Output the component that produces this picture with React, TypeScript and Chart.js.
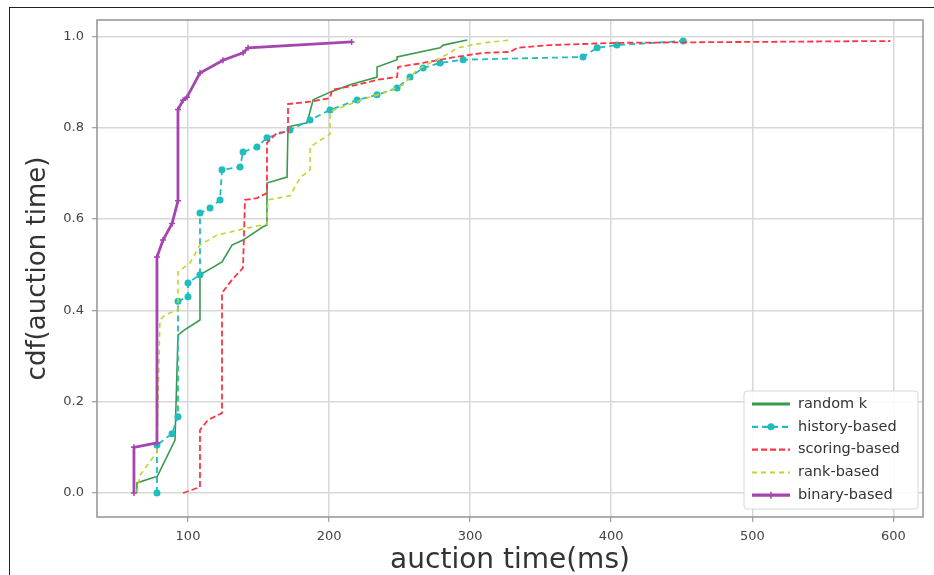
import React, { useEffect, useRef } from "react";
import { Chart, registerables } from "chart.js";

Chart.register(...registerables);

// ---------- data ----------
const SERIES_NAMES = ["random k", "history-based", "scoring-based", "rank-based", "binary-based"];

const RANDOM_X = [63.8, 63.8, 76.6, 78, 90.8, 92.9, 96.5, 108.5, 108.5, 117, 124.1, 131.2, 139, 153.2, 156, 156, 170.2, 170.9, 184.4, 188.7, 200.7, 214.9, 234, 234, 248.2, 248.2, 278.7, 280.9, 297.9];
const RANDOM_Y = [0, 0.022, 0.035, 0.035, 0.116, 0.346, 0.355, 0.379, 0.478, 0.493, 0.506, 0.543, 0.554, 0.583, 0.587, 0.679, 0.692, 0.802, 0.811, 0.861, 0.878, 0.894, 0.911, 0.933, 0.949, 0.955, 0.975, 0.981, 0.992];

const HISTORY_X = [78, 78, 88.7, 92.9, 92.9, 100, 100, 108.5, 108.5, 115.6, 122.7, 124.1, 136.9, 139, 148.9, 156, 172.3, 186.5, 200.7, 219.9, 234, 248.2, 257.4, 266.7, 278.7, 295, 380, 390, 404, 451];
const HISTORY_Y = [0, 0.105, 0.13, 0.167, 0.42, 0.43, 0.46, 0.478, 0.613, 0.624, 0.642, 0.708, 0.714, 0.747, 0.758, 0.778, 0.795, 0.817, 0.839, 0.861, 0.872, 0.887, 0.911, 0.931, 0.942, 0.949, 0.955, 0.975, 0.981, 0.99];

const SCORING_X = [96.5, 108.5, 108.5, 114.2, 124.1, 124.1, 131.2, 139, 140.4, 148.9, 156, 156, 163.1, 170.9, 170.9, 186.5, 200.7, 202.1, 219.9, 234, 248.2, 248.9, 266.7, 285.8, 309.2, 328.4, 333.3, 356.7, 404.3, 498.6, 597.9];
const SCORING_Y = [0, 0.013, 0.138, 0.16, 0.175, 0.438, 0.467, 0.493, 0.642, 0.646, 0.657, 0.767, 0.789, 0.791, 0.852, 0.857, 0.865, 0.883, 0.894, 0.905, 0.911, 0.933, 0.942, 0.953, 0.964, 0.966, 0.975, 0.981, 0.986, 0.988, 0.99];

const RANK_X = [63.8, 66, 78, 80.1, 83.7, 92.9, 92.9, 101.4, 108.5, 120.6, 141.8, 156, 156.7, 172.3, 179.4, 186.5, 186.5, 200.7, 200.7, 209.9, 227, 238.3, 252.5, 262.4, 271.6, 285.8, 290.8, 309.2, 328.4];
const RANK_Y = [0, 0.039, 0.09, 0.379, 0.39, 0.401, 0.484, 0.504, 0.543, 0.565, 0.58, 0.589, 0.642, 0.651, 0.69, 0.708, 0.758, 0.786, 0.835, 0.846, 0.865, 0.876, 0.894, 0.927, 0.942, 0.964, 0.975, 0.986, 0.992];

const BINARY_X = [61.7, 61.7, 78, 78, 82.3, 88.7, 92.9, 92.9, 96.5, 99.3, 108.5, 124.8, 139, 142.6, 216];
const BINARY_Y = [0, 0.1, 0.11, 0.517, 0.554, 0.59, 0.64, 0.84, 0.86, 0.867, 0.92, 0.948, 0.964, 0.975, 0.988];

const X_TICKS = [100, 200, 300, 400, 500, 600];
const Y_TICKS = [0, 0.2, 0.4, 0.6, 0.8, 1.0];

const X_TITLE = "auction time(ms)";
const Y_TITLE = "cdf(auction time)";

const zip = (xs: number[], ys: number[]) => xs.map((x, i) => ({ x, y: ys[i] }));

const COLORS = ["#3a9a4c", "#1fbdbd", "#ff3344", "#c6d22e", "#a545b0"];

const framePlugin = {
  id: "frame",
  afterDatasetsDraw(chart: any) {
    const { ctx, chartArea: a } = chart;
    ctx.save();
    ctx.strokeStyle = "#9a9a9a";
    ctx.lineWidth = 1.6;
    ctx.strokeRect(a.left, a.top, a.right - a.left, a.bottom - a.top);
    ctx.restore();
  },
};

const legendPlugin = {
  id: "customLegend",
  afterDraw(chart: any) {
    const { ctx } = chart;
    const x0 = 744, y0 = 391, w = 174, h = 118;
    ctx.save();
    ctx.fillStyle = "rgba(255,255,255,0.9)";
    ctx.strokeStyle = "#d6d6d6";
    ctx.lineWidth = 1;
    ctx.beginPath();
    (ctx as any).roundRect ? (ctx as any).roundRect(x0, y0, w, h, 3) : ctx.rect(x0, y0, w, h);
    ctx.fill();
    ctx.stroke();
    ctx.font = "14.5px 'DejaVu Sans', sans-serif";
    ctx.textBaseline = "middle";
    chart.data.datasets.forEach((ds: any, i: number) => {
      const y = 404 + i * 22.8;
      ctx.strokeStyle = ds.borderColor;
      ctx.lineWidth = i === 0 ? 3 : ds.borderWidth + 0.4;
      ctx.setLineDash(ds.borderDash || []);
      ctx.beginPath();
      ctx.moveTo(752, y);
      ctx.lineTo(790, y);
      ctx.stroke();
      ctx.setLineDash([]);
      if (i === 1) {
        ctx.fillStyle = ds.borderColor;
        ctx.beginPath();
        ctx.arc(771, y, 3.5, 0, Math.PI * 2);
        ctx.fill();
      }
      if (i === 4) {
        ctx.lineWidth = 1.5;
        ctx.beginPath();
        ctx.moveTo(771, y - 3.5);
        ctx.lineTo(771, y + 3.5);
        ctx.stroke();
      }
      ctx.fillStyle = "#333";
      ctx.fillText(ds.label, 798, y);
    });
    ctx.restore();
  },
};

export default function App() {
  const ref = useRef<HTMLCanvasElement | null>(null);
  useEffect(() => {
    if (!ref.current) return;
    const chart = new Chart(ref.current, {
      type: "line",
      data: {
        datasets: [
          {
            label: SERIES_NAMES[0],
            data: zip(RANDOM_X, RANDOM_Y),
            borderColor: COLORS[0],
            backgroundColor: COLORS[0],
            borderWidth: 1.6,
            pointRadius: 0,
            order: 5,
          },
          {
            label: SERIES_NAMES[1],
            data: zip(HISTORY_X, HISTORY_Y),
            borderColor: COLORS[1],
            backgroundColor: COLORS[1],
            borderWidth: 1.8,
            borderDash: [6, 4],
            pointRadius: 3.5,
            pointBorderWidth: 0,
            order: 4,
          },
          {
            label: SERIES_NAMES[2],
            data: zip(SCORING_X, SCORING_Y),
            borderColor: COLORS[2],
            backgroundColor: COLORS[2],
            borderWidth: 1.8,
            borderDash: [6, 3],
            pointRadius: 0,
            order: 3,
          },
          {
            label: SERIES_NAMES[3],
            data: zip(RANK_X, RANK_Y),
            borderColor: COLORS[3],
            backgroundColor: COLORS[3],
            borderWidth: 1.6,
            borderDash: [5, 4],
            pointRadius: 0,
            order: 2,
          },
          {
            label: SERIES_NAMES[4],
            data: zip(BINARY_X, BINARY_Y),
            borderColor: COLORS[4],
            backgroundColor: COLORS[4],
            borderWidth: 2.8,
            pointStyle: "cross",
            pointRadius: 3,
            pointBorderWidth: 1.5,
            order: 1,
          },
        ],
      },
      options: {
        responsive: false,
        animation: false,
        events: [],
        layout: { padding: { top: 20, right: 11, left: 0, bottom: 0 } },
        plugins: {
          legend: { display: false },
          tooltip: { enabled: false },
        },
        elements: { line: { tension: 0 } },
        scales: {
          x: {
            type: "linear",
            min: 35.5,
            max: 621,
            afterBuildTicks: (s: any) => {
              s.ticks = X_TICKS.map((v) => ({ value: v }));
            },
            afterFit: (s: any) => {
              s.height = 58;
            },
            ticks: {
              color: "#444",
              padding: 7,
              font: { family: "'DejaVu Sans', sans-serif", size: 13 },
              callback: (v: any) => String(v),
            },
            grid: { color: "#d8d8d8", lineWidth: 1.5, tickLength: 5, tickColor: "#888", tickWidth: 1 },
            border: { display: false },
            title: {
              display: true,
              text: X_TITLE,
              color: "#333",
              padding: { top: 0, bottom: 0 },
              font: { family: "'DejaVu Sans', sans-serif", size: 28, lineHeight: 1.05 },
            },
          },
          y: {
            type: "linear",
            min: -0.0526,
            max: 1.036,
            afterBuildTicks: (s: any) => {
              s.ticks = Y_TICKS.map((v) => ({ value: v }));
            },
            afterFit: (s: any) => {
              s.width = 97;
            },
            ticks: {
              color: "#444",
              padding: 8,
              font: { family: "'DejaVu Sans', sans-serif", size: 13 },
              callback: (v: any) => Number(v).toFixed(1),
            },
            grid: { color: "#d8d8d8", lineWidth: 1.5, tickLength: 5, tickColor: "#888", tickWidth: 1 },
            border: { display: false },
            title: {
              display: true,
              text: Y_TITLE,
              color: "#333",
              padding: { top: 24, bottom: 0 },
              font: { family: "'DejaVu Sans', sans-serif", size: 26, lineHeight: 1.1 },
            },
          },
        },
      },
      plugins: [framePlugin, legendPlugin],
    } as any);
    return () => chart.destroy();
  }, []);

  return (
    <div style={{ position: "absolute", left: 0, top: 0, width: 934, height: 575, background: "#fff", overflow: "hidden" }}>
      <canvas ref={ref} width={934} height={575} style={{ position: "absolute", left: 0, top: 0, width: 934, height: 575 }} />
      <div
        style={{
          position: "absolute",
          left: 9,
          top: 7,
          width: 940,
          height: 600,
          borderTop: "1.5px solid #222",
          borderLeft: "1.5px solid #222",
          pointerEvents: "none",
        }}
      />
    </div>
  );
}
